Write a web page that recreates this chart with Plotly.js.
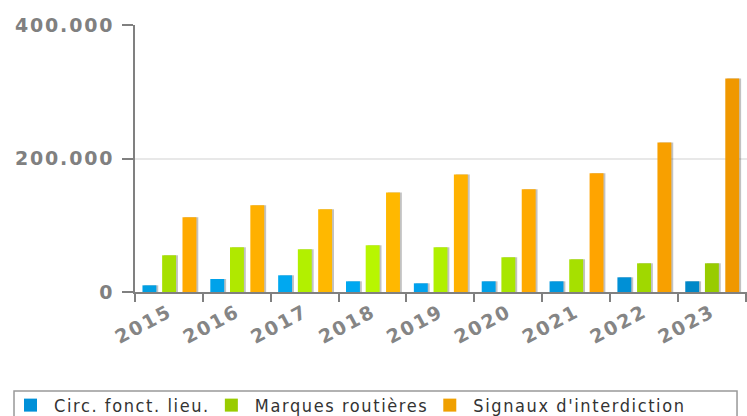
<!DOCTYPE html>
<html>
<head>
<meta charset="utf-8">
<script src="https://cdn.plot.ly/plotly-3.0.1.min.js"></script>
<style>
html,body{margin:0;padding:0;background:#fff;}
#chart{width:747px;height:416px;}
.xtick text{letter-spacing:2px;}
.ytick text{letter-spacing:1.8px;}
.legendtext{letter-spacing:1.6px;}
</style>
</head>
<body>
<div id="chart"></div>
<script>
const years = ['2015','2016','2017','2018','2019','2020','2021','2022','2023'];
const seriesNames = ['Circ. fonct. lieu.','Marques routières',"Signaux d'interdiction"];
const circFonctLieu = [10000,19500,25000,16000,13000,16000,16000,22000,16000];
const marquesRoutieres = [55000,67000,64000,70000,67000,52000,49000,43000,43000];
const signauxInterdiction = [112000,130000,124000,149000,176000,154000,178000,224000,320000];
const yTicks = [0,200000,400000];

const blueShades = ['#009fe3','#00a2ea','#00a8f0','#00a8f0','#00a2ee','#00a0e8','#0098e0','#0090d6','#0088c8'];
const greenShades = ['#a6e000','#b0e800','#b2f000','#b8f600','#b0f000','#a8e600','#a6e000','#a0d800','#98cc00'];
const orangeShades = ['#ffaa00','#ffb000','#ffb800','#ffb800','#ffb200','#ffaa00','#ffa400','#f8a000','#f09800'];
const legendColors = ['#0090d8','#99cc00','#f0a000'];

const values = [circFonctLieu, marquesRoutieres, signauxInterdiction];
const shades = [blueShades, greenShades, orangeShades];
const offsets = [-0.39, -0.10, 0.20];
const barW = 0.205;

const traces = [];
values.forEach((v, i) => {
  traces.push({
    type:'bar', x: years, y: v, offset: offsets[i] + 0.028, width: barW,
    marker:{color:'rgba(80,80,80,0.35)'}, showlegend:false, hoverinfo:'skip'
  });
});
values.forEach((v, i) => {
  traces.push({
    type:'bar', name: seriesNames[i], x: years, y: v, offset: offsets[i], width: barW,
    marker:{color: shades[i], line:{width:0}}, hoverinfo:'skip'
  });
});

const layout = {
  width:747, height:416,
  margin:{l:135, r:0, t:25, b:124, autoexpand:false},
  paper_bgcolor:'#fff', plot_bgcolor:'#fff',
  barmode:'overlay',
  separators:',.',
  showlegend:true,
  font:{family:'DejaVu Sans', color:'#808080'},
  xaxis:{
    type:'category', range:[-0.5, 8.52],
    showgrid:false, zeroline:false,
    showline:true, linecolor:'#808080', linewidth:2,
    ticks:'outside', tickson:'boundaries', ticklen:8, tickwidth:2, tickcolor:'#808080',
    tickangle:-28,
    tickfont:{family:'DejaVu Sans', size:19, color:'#858585', weight:'bold'},
    automargin:false,
    fixedrange:true
  },
  yaxis:{
    range:[0,400000], tickvals: yTicks, tickformat:',d',
    showgrid:true, gridcolor:'#e8e8e8', gridwidth:2,
    zeroline:false,
    showline:true, linecolor:'#808080', linewidth:2,
    ticks:'outside', ticklen:11, tickwidth:2, tickcolor:'#808080',
    ticklabelstandoff:4,
    tickfont:{family:'DejaVu Sans', size:19, color:'#808080', weight:'bold'},
    automargin:false,
    fixedrange:true
  },
  legend:{
    orientation:'h', x:-0.1977, xanchor:'left', y:-0.3555, yanchor:'top',
    bgcolor:'rgba(0,0,0,0)', borderwidth:0,
    font:{family:'DejaVu Sans Condensed', size:18, color:'#333333'},
    itemclick:false, itemdoubleclick:false
  },
  shapes:[{
    type:'rect', xref:'paper', yref:'paper',
    x0:-0.1977, x1:0.9837, y0:-0.3708, y1:-0.60,
    line:{color:'#999999', width:1.5}, fillcolor:'rgba(0,0,0,0)', layer:'below'
  }]
};

Plotly.newPlot('chart', traces, layout, {staticPlot:true, displayModeBar:false}).then(gd => {
  const pts = gd.querySelectorAll('.legend .traces .legendpoints path');
  pts.forEach((p, i) => {
    if (legendColors[i]) {
      p.style.fill = legendColors[i];
      p.setAttribute('d', 'M3,6.5H-10V-6.5H3Z');
    }
  });
});
</script>
</body>
</html>
